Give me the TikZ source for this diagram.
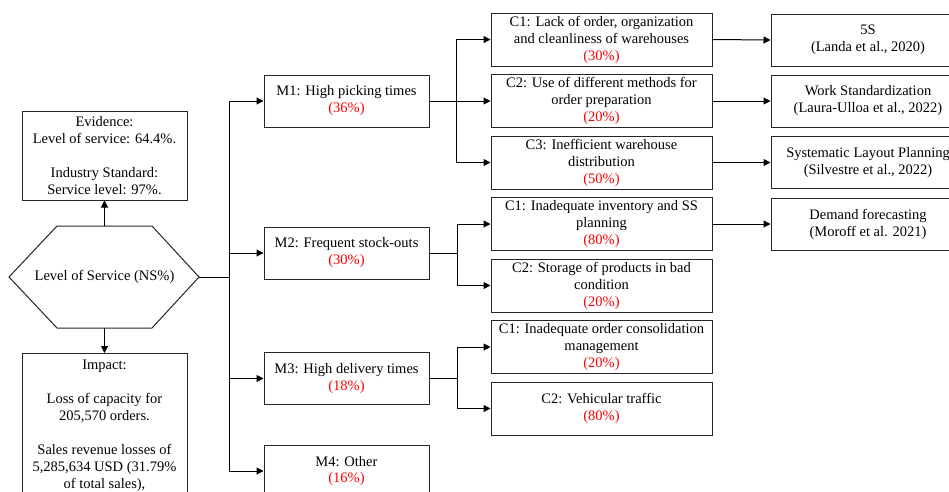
\documentclass[tikz,border=0pt]{standalone}
\usepackage{fontspec}
\setmainfont{Liberation Serif}
\usetikzlibrary{arrows.meta}
\newcommand\fsz{\fontsize{14.5}{17}\selectfont}
\tikzset{
  box/.style={draw=black!85, line width=1pt, inner sep=0pt, align=center, font=\fsz, fill=white},
  mbox/.style={box, minimum width=165pt, minimum height=52pt},
  cbox/.style={box, minimum width=221pt, minimum height=53pt},
  rbox/.style={box, minimum width=194pt, minimum height=52pt},
  conn/.style={line width=1pt, draw=black},
  arr/.style={conn, -{Triangle[length=7pt,width=7pt]}},
  pct/.style={text=red}
}
\begin{document}
\begin{tikzpicture}[x=1pt,y=-1pt]
\clip (0,0) rectangle (949,491);
\fill[white] (0,0) rectangle (949,491);
% hexagon
\draw[line width=1pt, draw=black!85] (9,277) -- (57,226) -- (152,226) -- (199,277) -- (152,328) -- (57,328) -- cycle;
\node[font=\fsz] (hex) at (104.5,277) {Level of Service (NS\%)};
\coordinate (hexT) at (104.5,226);
\coordinate (hexB) at (104.5,328);
\coordinate (hexR) at (199,277);

\node[box, minimum width=165pt, minimum height=89pt] (ev) at (104.5,155.5)
  {Evidence:\\Level of service: 64.4\%.\\[17pt]Industry Standard:\\Service level: 97\%.};
\node[box, minimum width=165pt, minimum height=160pt, anchor=north] (imp) at (104.5,353) {};
\node[font=\fsz, align=center, anchor=north, inner sep=0pt] (imptext) at (104.5,360)
  {Impact:\\[17pt]Loss of capacity for\\205,570 orders.\\[17pt]Sales revenue losses of\\5,285,634 USD (31.79\%\\of total sales),};

\draw[arr] (hexT) -- (ev.south);
\draw[arr] (hexB) -- (imp.north);

% M boxes
\node[mbox] (m1) at (346.5,101) {M1: High picking times\\\textcolor{red}{(36\%)}};
\node[mbox] (m2) at (346.5,253) {M2: Frequent stock-outs\\\textcolor{red}{(30\%)}};
\node[mbox] (m3) at (346.5,378.5) {M3: High delivery times\\\textcolor{red}{(18\%)}};
\node[mbox] (m4) at (346.5,471) {M4: Other\\\textcolor{red}{(16\%)}};

\coordinate (tr) at (229,277);
\draw[conn] (hexR) -- (tr);
\draw[arr] (tr) |- (m1.west);
\draw[arr] (tr) |- (m2.west);
\draw[arr] (tr) |- (m3.west);
\draw[arr] (tr) |- (m4.west);

% C boxes
\node[cbox] (c11) at (601.5,39.5) {C1: Lack of order, organization\\and cleanliness of warehouses\\\textcolor{red}{(30\%)}};
\node[cbox] (c12) at (601.5,101) {C2: Use of different methods for\\order preparation\\\textcolor{red}{(20\%)}};
\node[cbox] (c13) at (601.5,162.5) {C3: Inefficient warehouse\\distribution\\\textcolor{red}{(50\%)}};
\node[cbox] (c21) at (601.5,224) {C1: Inadequate inventory and SS\\planning\\\textcolor{red}{(80\%)}};
\node[cbox] (c22) at (601.5,285.5) {C2: Storage of products in bad\\condition\\\textcolor{red}{(20\%)}};
\node[cbox] (c31) at (601.5,347) {C1: Inadequate order consolidation\\management\\\textcolor{red}{(20\%)}};
\node[cbox] (c32) at (601.5,408.5) {C2: Vehicular traffic\\\textcolor{red}{(80\%)}};

\coordinate (b1) at (456,101);
\draw[conn] (m1.east) -- (b1);
\draw[arr] (b1) |- (c11.west);
\draw[arr] (b1) -- (c12.west);
\draw[arr] (b1) |- (c13.west);

\coordinate (b2) at (457,253);
\draw[conn] (m2.east) -- (b2);
\draw[arr] (b2) |- (c21.west);
\draw[arr] (b2) |- (c22.west);

\coordinate (b3) at (457,378.5);
\draw[conn] (m3.east) -- (b3);
\draw[arr] (b3) |- (c31.west);
\draw[arr] (b3) |- (c32.west);

% right boxes
\node[rbox] (r1) at (868,40) {5S\\(Landa et al., 2020)};
\node[rbox] (r2) at (868,101) {Work Standardization\\(Laura-Ulloa et al., 2022)};
\node[rbox] (r3) at (868,162.5) {Systematic Layout Planning\\(Silvestre et al., 2022)};
\node[rbox] (r4) at (868,224) {Demand forecasting\\(Moroff et al. 2021)};

\draw[arr] (c11.east) -- (r1.west);
\draw[arr] (c12.east) -- (r2.west);
\draw[arr] (c13.east) -- (r3.west);
\draw[arr] (c21.east) -- (r4.west);
\end{tikzpicture}
\end{document}
